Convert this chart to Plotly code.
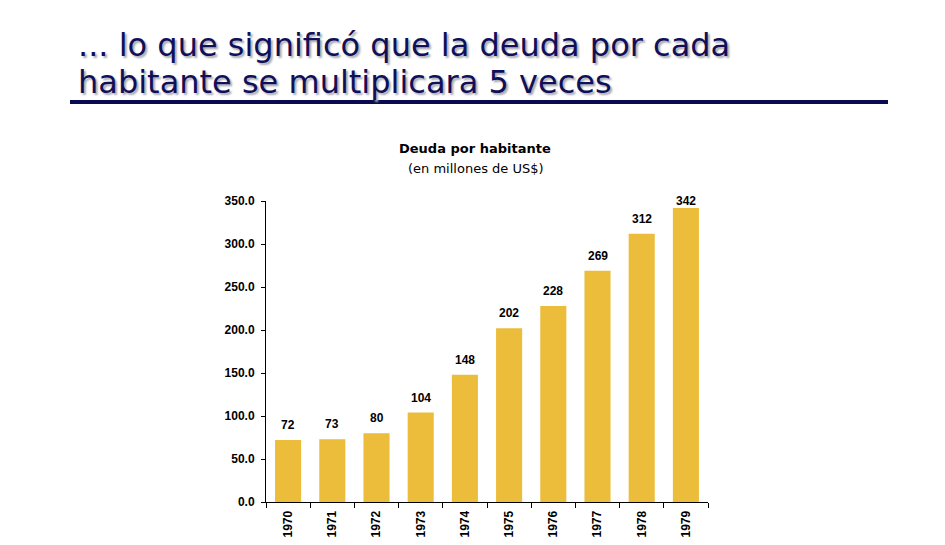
import plotly.graph_objects as go

years = ["1970", "1971", "1972", "1973", "1974", "1975", "1976", "1977", "1978", "1979"]
deuda = [72, 73, 80, 104, 148, 202, 228, 269, 312, 342]
y_ticks = [0, 50, 100, 150, 200, 250, 300, 350]
y_tick_labels = ["0.0", "50.0", "100.0", "150.0", "200.0", "250.0", "300.0", "350.0"]
Y_MAX = 350

title_line1 = "... lo que significó que la deuda por cada"
title_line2 = "habitante se multiplicara 5 veces"
chart_title = "<b>Deuda por habitante</b>"
chart_subtitle = "(en millones de US$)"

OFF = 8  # page body margin
W, H = 945 - OFF, 545 - OFF
# plot area in reference pixels: x 266..708, y 201..502
L = 266 - OFF
T = 201 - OFF
R = W - (708 - OFF)
B = H - (502 - OFF)
pw = W - L - R
ph = H - T - B

def px(x):
    return (x - OFF - L) / pw

def py(y):
    return (H - B - (y - OFF)) / ph

fig = go.Figure()
fig.add_trace(go.Bar(
    x=years, y=deuda,
    marker=dict(color="#EBBD3B", line=dict(width=0)),
))

shadow = "2px 2px 2px #A8A8B0"
annotations = [
    dict(text=title_line1, x=px(76), y=py(45), xref="paper", yref="paper",
         xanchor="left", yanchor="middle", showarrow=False,
         font=dict(family="DejaVu Sans", size=32, color="#10105A", shadow=shadow)),
    dict(text=title_line2, x=px(76), y=py(82), xref="paper", yref="paper",
         xanchor="left", yanchor="middle", showarrow=False,
         font=dict(family="DejaVu Sans", size=32, color="#10105A", shadow=shadow)),
    dict(text=chart_title, x=px(475), y=py(148), xref="paper", yref="paper",
         xanchor="center", yanchor="middle", showarrow=False,
         font=dict(family="DejaVu Sans", size=13, color="#000000")),
    dict(text=chart_subtitle, x=px(476), y=py(168), xref="paper", yref="paper",
         xanchor="center", yanchor="middle", showarrow=False,
         font=dict(family="DejaVu Sans", size=13, color="#000000")),
]
label_font = dict(family="Liberation Sans, Arial", size=12, color="#000000")
for i, v in enumerate(deuda):
    if v > Y_MAX - 20:
        # label kept inside chart area (clamped at the top), as in the original
        annotations.append(dict(text="<b>%d</b>" % v, x=i, y=Y_MAX, xref="x", yref="y",
                                xanchor="center", yanchor="middle", showarrow=False, font=label_font))
    else:
        annotations.append(dict(text="<b>%d</b>" % v, x=i, y=v, xref="x", yref="y",
                                xanchor="center", yanchor="bottom", yshift=6, showarrow=False,
                                font=label_font))

fig.update_layout(
    width=W, height=H,
    margin=dict(l=L, r=R, t=T, b=B, pad=0, autoexpand=False),
    paper_bgcolor="white", plot_bgcolor="white",
    showlegend=False,
    bargap=0.41,
    annotations=annotations,
    shapes=[dict(type="line", xref="paper", yref="paper", x0=px(70), x1=px(888), y0=py(102), y1=py(102),
                 line=dict(color="#0A0A50", width=4))],
    xaxis=dict(
        type="category", range=[-0.5, len(years) - 0.5], autorange=False, automargin=False,
        showgrid=False, showline=True, linecolor="#000000", linewidth=1,
        ticks="outside", tickson="boundaries", ticklen=5, tickcolor="#000000",
        tickangle=-90, tickfont=dict(family="Liberation Sans, Arial", size=12, color="#000000"),
        tickprefix="<b>", ticksuffix="</b>", ticklabelstandoff=3,
    ),
    yaxis=dict(
        range=[0, Y_MAX], automargin=False, showgrid=False, showline=True, linecolor="#000000", linewidth=1,
        ticks="outside", ticklen=4, tickcolor="#000000",
        tickvals=y_ticks, ticktext=["<b>" + t + "</b>" for t in y_tick_labels],
        tickfont=dict(family="Liberation Sans, Arial", size=12, color="#000000"),
        ticklabelstandoff=4,
        zeroline=False,
    ),
)

fig.write_html("out.html")
